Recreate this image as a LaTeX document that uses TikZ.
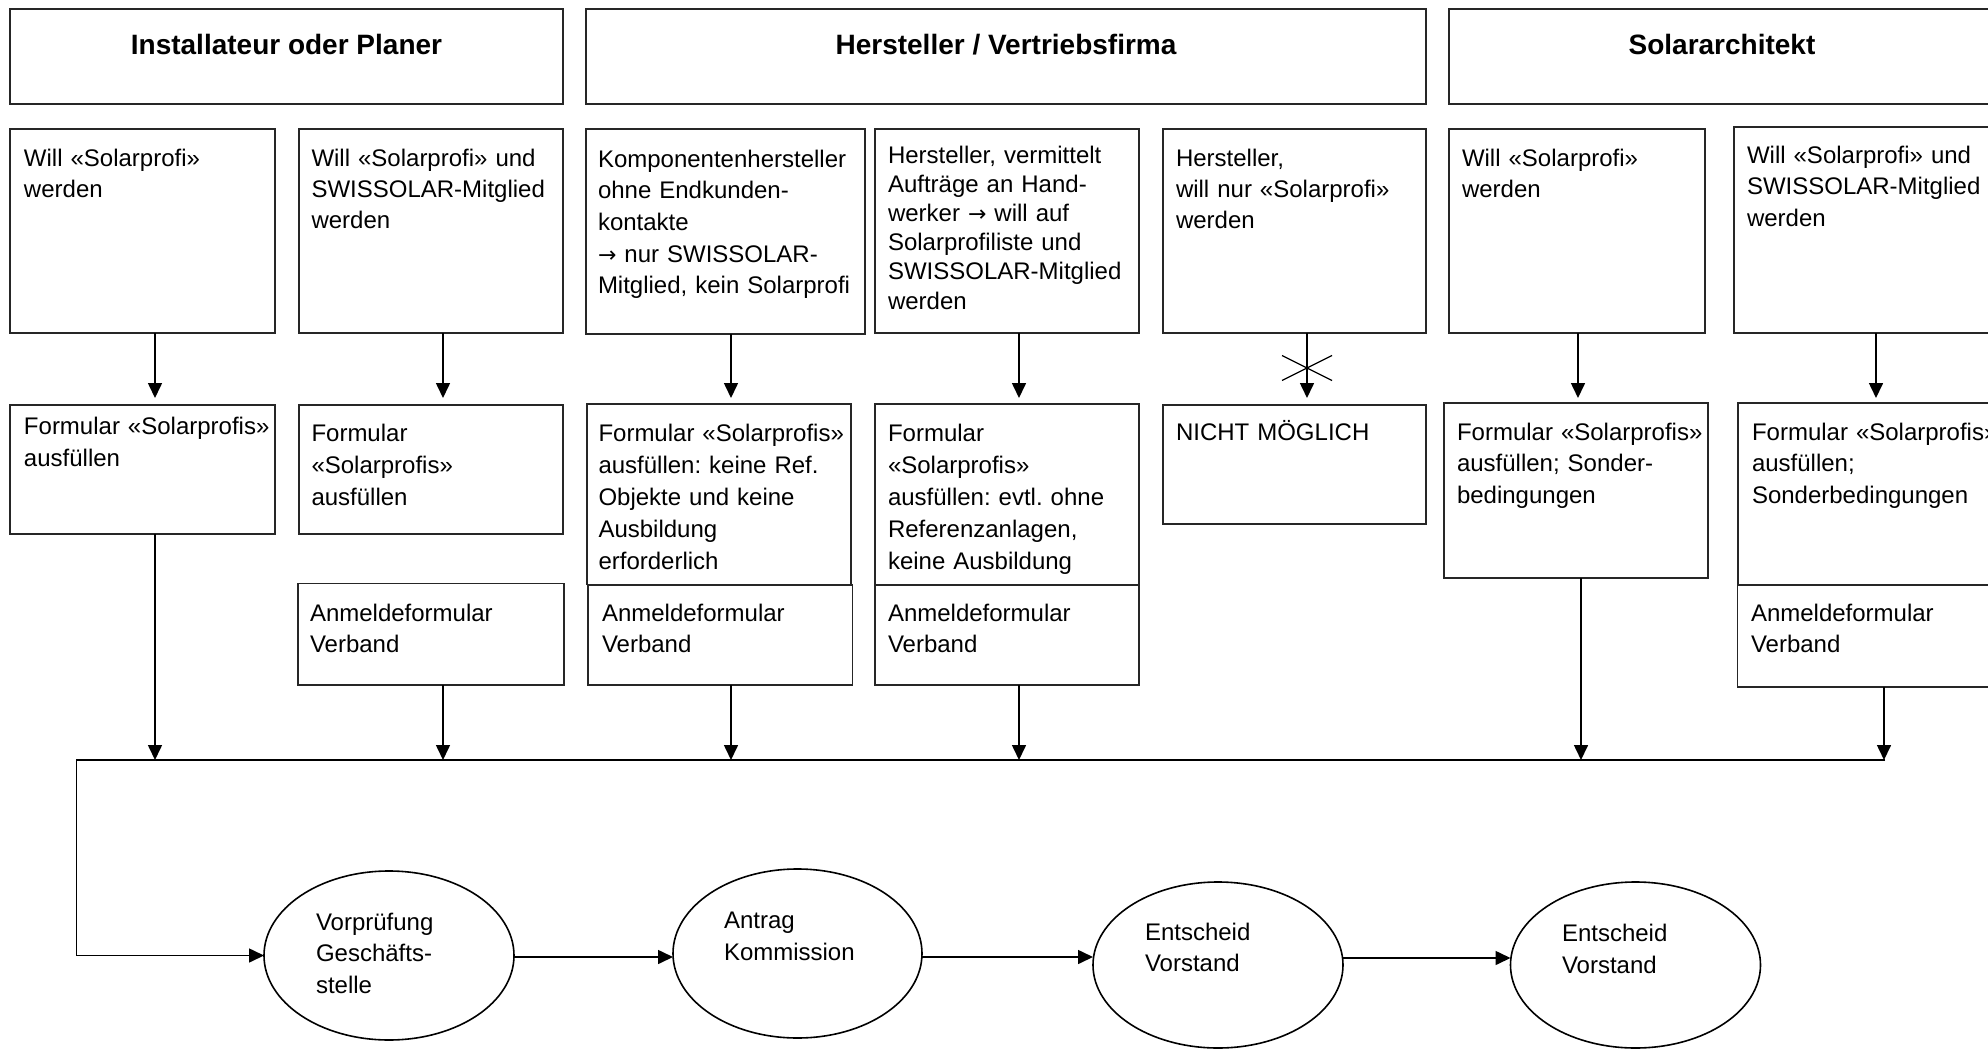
\documentclass[tikz,border=0pt]{standalone}
\usepackage{fontspec}
\setmainfont{Liberation Sans}
\newfontfamily\symfont{DejaVu Sans}
\usetikzlibrary{arrows.meta,shapes.geometric}
\newcommand\mybox[5]{\node[box, minimum width={(#4-#2)*0.5pt}, minimum height={(#5-#3)*0.5pt}] (#1) at (#2,#3) {};}
\newcommand\rarr{{\symfont\fontsize{11}{11}\selectfont →}}
\frenchspacing
\begin{document}
\begin{tikzpicture}[x=0.5pt,y=-0.5pt,
  box/.style={draw=black!85, line width=0.8pt, inner sep=0pt, outer sep=0pt, anchor=north west},
  oval/.style={draw, ellipse, line width=0.8pt, inner sep=0pt, outer sep=0pt},
  txt/.style={inner sep=0pt, outer sep=0pt, anchor=base west, align=left, text width=300pt, font=\fontsize{12}{#1}\selectfont\frenchspacing},
  txt/.default=15.75,
  hd/.style={inner sep=0pt, outer sep=0pt, anchor=base, font=\fontsize{14}{16}\selectfont\bfseries},
  arr/.style={line width=0.8pt, -{Triangle[length=7.5pt,width=7pt]}},
  cross/.style={line width=0.6pt}
]
\useasboundingbox (0,0) rectangle (1988,1049);
\clip (0,0) rectangle (1988,1049);
\fill[white] (0,0) rectangle (1988,1049);

% header boxes
\mybox{h1}{10}{9}{563}{104}
\mybox{h2}{586}{9}{1426}{104}
\mybox{h3}{1449}{9}{1995}{104}
\node[hd] (h1t) at (286.5,54.5) {Installateur oder Planer};
\node[hd] (h2t) at (1006,54.5) {Hersteller / Vertriebsfirma};
\node[hd] (h3t) at (1722,54.5) {Solararchitekt};

% row 1
\mybox{a1}{10}{129}{275}{333}
\mybox{b1}{299}{129}{563}{333}
\mybox{c1}{586}{129}{865}{334}
\mybox{d1}{875}{129}{1139}{333}
\mybox{e1}{1163}{129}{1426}{333}
\mybox{f1}{1449}{129}{1705}{333}
\mybox{g1}{1734}{127}{2000}{333}
\node[txt=15.5] (a1t) at (24,166) {Will «Solarprofi»\\werden};
\node[txt=15.5] (b1t) at (311.5,166) {Will «Solarprofi» und\\SWISSOLAR-Mitglied\\werden};
\node[txt=15.85] (c1t) at (598,167) {Komponentenhersteller\\ohne Endkunden-\\kontakte\\\rarr{} nur SWISSOLAR-\\Mitglied, kein Solarprofi};
\node[txt=14.6] (d1t) at (888,163) {Hersteller, vermittelt\\Aufträge an Hand-\\werker \rarr{} will auf\\Solarprofiliste und\\SWISSOLAR-Mitglied\\werden};
\node[txt=15.5] (e1t) at (1176,166) {Hersteller,\\will nur «Solarprofi»\\werden};
\node[txt=15.5] (f1t) at (1462,166) {Will «Solarprofi»\\werden};
\node[txt=15.9] (g1t) at (1747,163) {Will «Solarprofi» und\\SWISSOLAR-Mitglied\\werden};

% row 2
\mybox{a2}{10}{405}{275}{534}
\mybox{b2}{299}{405}{563}{534}
\mybox{c2}{587}{404}{851}{584.5}
\mybox{d2}{875}{404}{1139}{585}
\mybox{e2}{1163}{405}{1426}{524}
\mybox{f2}{1444}{403}{1708}{578}
\mybox{g2}{1738}{403}{2000}{585}
\node[txt=16] (a2t) at (24,434) {Formular «Solarprofis»\\ausfüllen};
\node[txt=16] (b2t) at (311.5,441) {Formular\\«Solarprofis»\\ausfüllen};
\node[txt=16] (c2t) at (598.5,441) {Formular «Solarprofis»\\ausfüllen: keine Ref.\\Objekte und keine\\Ausbildung\\erforderlich};
\node[txt=16] (d2t) at (888,441) {Formular\\«Solarprofis»\\ausfüllen: evtl. ohne\\Referenzanlagen,\\keine Ausbildung};
\node[txt=16] (e2t) at (1176,440) {NICHT MÖGLICH};
\node[txt=15.75] (f2t) at (1457,440) {Formular «Solarprofis»\\ausfüllen; Sonder-\\bedingungen};
\node[txt=15.75] (g2t) at (1752,440) {Formular «Solarprofis»\\ausfüllen;\\Sonderbedingungen};

% row 3
\mybox{b3}{298}{583.5}{564}{685}
\mybox{c3}{588}{585}{852.5}{685}
\mybox{d3}{875}{585}{1139}{685}
\mybox{g3}{1737.5}{585}{2000}{687}
\node[txt=15.5] (b3t) at (310,621) {Anmeldeformular\\Verband};
\node[txt=15.5] (c3t) at (602,621) {Anmeldeformular\\Verband};
\node[txt=15.5] (d3t) at (888,621) {Anmeldeformular\\Verband};
\node[txt=15.5] (g3t) at (1751,621) {Anmeldeformular\\Verband};

% ellipses
\node[oval, minimum width=125pt, minimum height=84.5pt] (v1) at (389,955.5) {};
\node[oval, minimum width=124.5pt, minimum height=84.5pt] (v2) at (797.5,953.5) {};
\node[oval, minimum width=125pt, minimum height=83pt] (v3) at (1218,965) {};
\node[oval, minimum width=125pt, minimum height=83pt] (v4) at (1635.5,965) {};
\node[txt=15.75] (v1t) at (316,930) {Vorprüfung\\Geschäfts-\\stelle};
\node[txt=16] (v2t) at (724,928) {Antrag\\Kommission};
\node[txt=15.5] (v3t) at (1145,940) {Entscheid\\Vorstand};
\node[txt=16] (v4t) at (1562,941) {Entscheid\\Vorstand};

% arrow columns and bus
\coordinate (cA) at (155,0);
\coordinate (cB) at (443,0);
\coordinate (cC) at (731,0);
\coordinate (cD) at (1019,0);
\coordinate (cE) at (1307,0);
\coordinate (cF1) at (1578,0);
\coordinate (cF2) at (1581,0);
\coordinate (cG1) at (1876,0);
\coordinate (cG3) at (1884,0);
\coordinate (busL) at (76.5,760);
\coordinate (busR) at (1885,760);
\coordinate (xc) at (1307,368);

% row 1 -> row 2
\draw[arr, shorten >=3.5pt] (a1.south -| cA) -- (a2.north -| cA);
\draw[arr, shorten >=3.5pt] (b1.south -| cB) -- (b2.north -| cB);
\draw[arr, shorten >=3pt] (c1.south -| cC) -- (c2.north -| cC);
\draw[arr, shorten >=3pt] (d1.south -| cD) -- (d2.north -| cD);
\draw[arr, shorten >=3.5pt] (e1.south -| cE) -- (e2.north -| cE);
\draw[arr, shorten >=2.5pt] (f1.south -| cF1) -- (f2.north -| cF1);
\draw[arr, shorten >=2.5pt] (g1.south -| cG1) -- (g2.north -| cG1);
\draw[cross] ([shift={(-25,-12.5)}]xc) -- ([shift={(25,12.5)}]xc)
             ([shift={(-25,12.5)}]xc) -- ([shift={(25,-12.5)}]xc);

% to bus
\draw[arr] (a2.south -| cA) -- (busL -| cA);
\draw[arr] (b3.south -| cB) -- (busL -| cB);
\draw[arr] (c3.south -| cC) -- (busL -| cC);
\draw[arr] (d3.south -| cD) -- (busL -| cD);
\draw[arr] (f2.south -| cF2) -- (busL -| cF2);
\draw[arr] (g3.south -| cG3) -- (busL -| cG3);
\draw[arr] (busR) -- (busL) -- (busL |- v1.west) -- (v1.west);

% process chain
\draw[arr] ([yshift=-0.75pt]v1.east) -- ([yshift=-1.75pt]v2.west);
\draw[arr] ([yshift=-1.75pt]v2.east) -- ([yshift=4pt]v3.west);
\draw[arr] ([yshift=3.5pt]v3.east) -- ([yshift=3.5pt]v4.west);
\end{tikzpicture}
\end{document}
